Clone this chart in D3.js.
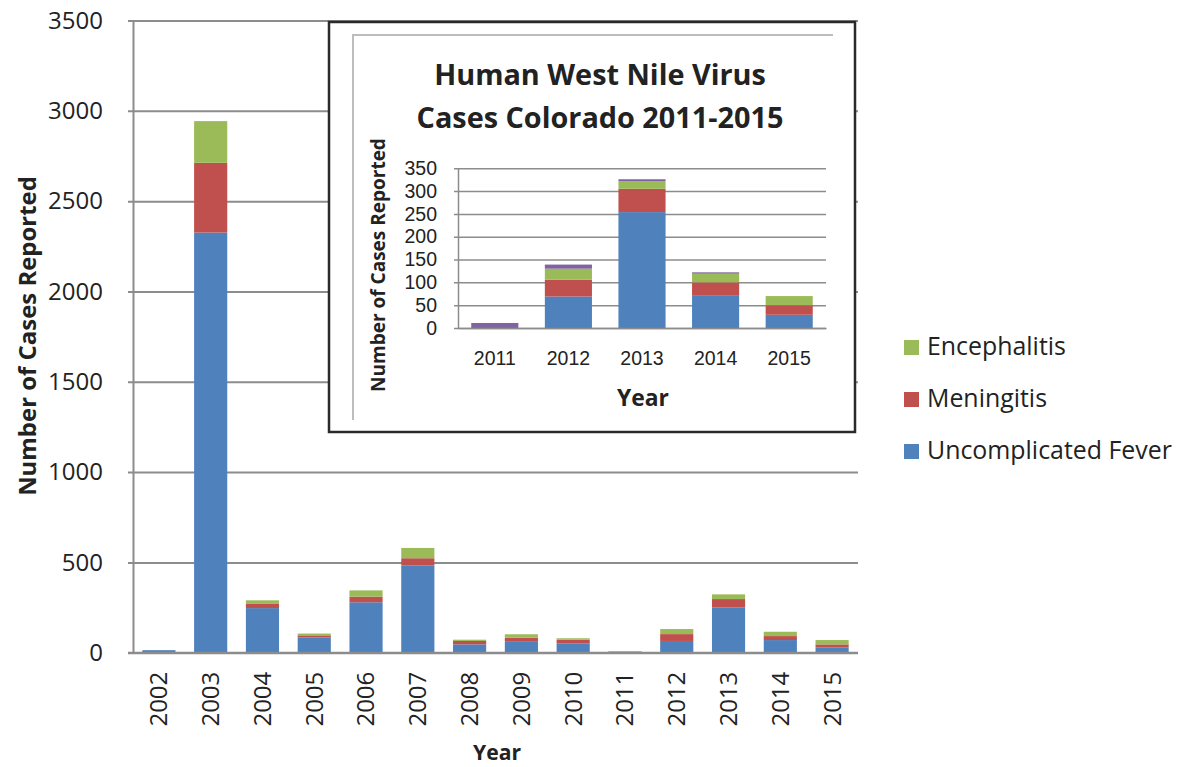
<!DOCTYPE html>
<html><head><meta charset="utf-8">
<script src="https://cdn.jsdelivr.net/npm/d3@7"></script>
<style>body{margin:0;background:#fff}svg{display:block}text{font-family:"Open Sans",sans-serif;fill:#222}</style>
</head><body><svg id="c" width="1181" height="767"></svg>
<script>
// ---- main chart data ----
const years = ["2002","2003","2004","2005","2006","2007","2008","2009","2010","2011","2012","2013","2014","2015"];
const fever = [14, 2326, 247, 85, 279, 482, 46, 64, 52, 2, 65, 251, 70, 28];
const meningitis = [0, 386, 23, 11, 31, 41, 19, 19, 20, 4, 38, 46, 22, 18];
const encephalitis = [0, 231, 20, 10, 35, 57, 7, 19, 8, 3, 28, 26, 24, 24];
const yTicks = [0, 500, 1000, 1500, 2000, 2500, 3000, 3500];
// ---- inset data ----
const insetYears = ["2011","2012","2013","2014","2015"];
const insetFever = [0, 69, 254, 72, 29];
const insetMeningitis = [0, 37, 51, 28, 21];
const insetEncephalitis = [0, 24, 17, 19, 20];
const insetOther = [11, 9, 4, 3, 0];
const insetTicks = [0, 50, 100, 150, 200, 250, 300, 350];
const legendItems = ["Encephalitis", "Meningitis", "Uncomplicated Fever"];

const colors = {fever:"#4F81BD", meningitis:"#C0504D", encephalitis:"#9BBB59", other:"#8064A2"};
const svg = d3.select("#c");
const grid = "#8c8c8c";
const fmt = d3.format("d");

function fit(sel, target){
  const n = sel.node(); const fs = parseFloat(sel.style("font-size"));
  const w = n.getComputedTextLength(); sel.style("font-size", (fs*target/w)+"px");
  return fs*target/w;
}

// ---- main chart ----
const x = d3.scaleBand().domain(years).range([133, 858]).paddingInner(0.36).paddingOuter(0.18);
const y = d3.scaleLinear().domain([0, 3500]).range([652.7, 20.5]);

const gy = svg.append("g").attr("transform","translate(133,0)")
  .call(d3.axisLeft(y).tickValues(yTicks).tickFormat(fmt).tickSize(-(858-133)).tickSizeOuter(0).tickPadding(30));
gy.select(".domain").attr("stroke", grid).attr("stroke-width",2);
gy.selectAll(".tick line").attr("stroke", grid).attr("stroke-width",2).attr("x1",-5);
gy.selectAll(".tick text").style("font-size","24px").attr("fill","#333").attr("font-family","Open Sans");

const mainRows = years.map((yr,i)=>({year:yr, fever:fever[i], meningitis:meningitis[i], encephalitis:encephalitis[i]}));
const mainStack = d3.stack().keys(["fever","meningitis","encephalitis"])(mainRows);
svg.append("g").selectAll("g").data(mainStack).join("g").attr("fill", d=>colors[d.key])
  .selectAll("rect").data(d=>d).join("rect")
  .attr("x", d=>x(d.data.year)).attr("width", x.bandwidth())
  .attr("y", d=>y(d[1])).attr("height", d=>y(d[0])-y(d[1]));

const gx = svg.append("g").attr("transform","translate(0,652.7)")
  .call(d3.axisBottom(x).tickSize(0).tickSizeOuter(0));
gx.select(".domain").attr("stroke", grid).attr("stroke-width",2).attr("d","M128,0H858");
gx.selectAll(".tick text").style("font-size","24px").attr("fill","#333")
  .attr("transform","rotate(-90)").attr("text-anchor","end").attr("dy","0.35em").attr("x",-19).attr("y",0);

svg.append("text").attr("transform","translate(28,336) rotate(-90)").attr("text-anchor","middle")
  .attr("dy","0.35em").style("font-weight","bold").style("font-size","22px").text("Number of Cases Reported")
  .call(s=>fit(s,320));
svg.append("text").attr("x",497).attr("y",760).attr("text-anchor","middle")
  .style("font-weight","bold").style("font-size","21px").text("Year").call(s=>fit(s,48));

// ---- inset ----
svg.append("rect").attr("x",329).attr("y",22).attr("width",526).attr("height",410)
  .attr("fill","#fff").attr("stroke","#2a2a2a").attr("stroke-width",2.5);
svg.append("path").attr("d","M353,420V35H833").attr("fill","none").attr("stroke","#bdbdbd").attr("stroke-width",2);

const t1 = svg.append("text").attr("x",600).attr("y",85).attr("text-anchor","middle")
  .style("font-weight","bold").style("font-size","26px").text("Human West Nile Virus");
const t2 = svg.append("text").attr("x",600).attr("y",128).attr("text-anchor","middle")
  .style("font-weight","bold").style("font-size","26px").text("Cases Colorado 2011-2015");
const tfs = fit(t2, 367); t1.style("font-size", tfs+"px");

const ix = d3.scaleBand().domain(insetYears).range([458, 826]).paddingInner(0.36).paddingOuter(0.18);
const iy = d3.scaleLinear().domain([0, 350]).range([328, 168.3]);
const igy = svg.append("g").attr("transform","translate(458,0)")
  .call(d3.axisLeft(iy).tickValues(insetTicks).tickFormat(fmt).tickSize(-(826-458)).tickSizeOuter(0).tickPadding(21));
igy.select(".domain").attr("stroke", grid).attr("stroke-width",1.5);
igy.selectAll(".tick line").attr("stroke", grid).attr("stroke-width",1.5).attr("x1",-4);
igy.selectAll(".tick text").style("font-size","19.5px").style("font-family","'Liberation Sans', sans-serif").attr("fill","#333");

const insetRows = insetYears.map((yr,i)=>({year:yr, fever:insetFever[i], meningitis:insetMeningitis[i], encephalitis:insetEncephalitis[i], other:insetOther[i]}));
const insetStack = d3.stack().keys(["fever","meningitis","encephalitis","other"])(insetRows);
svg.append("g").selectAll("g").data(insetStack).join("g").attr("fill", d=>colors[d.key])
  .selectAll("rect").data(d=>d).join("rect")
  .attr("x", d=>ix(d.data.year)).attr("width", ix.bandwidth())
  .attr("y", d=>iy(d[1])).attr("height", d=>iy(d[0])-iy(d[1]));

const igx = svg.append("g").attr("transform","translate(0,328)")
  .call(d3.axisBottom(ix).tickSize(0).tickSizeOuter(0).tickPadding(23));
igx.select(".domain").attr("stroke", grid).attr("stroke-width",1.5);
igx.selectAll(".tick text").style("font-size","19.5px").style("font-family","'Liberation Sans', sans-serif").attr("fill","#333");

svg.append("text").attr("transform","translate(378,265) rotate(-90)").attr("text-anchor","middle")
  .attr("dy","0.35em").style("font-weight","bold").style("font-size","17px").text("Number of Cases Reported")
  .call(s=>fit(s,254));
svg.append("text").attr("x",643).attr("y",406).attr("text-anchor","middle")
  .style("font-weight","bold").style("font-size","21px").text("Year").call(s=>fit(s,52));

// ---- legend ----
const legColors = [colors.encephalitis, colors.meningitis, colors.fever];
const legBase = [355, 407, 459];
const lg = svg.append("g");
legendItems.forEach((name,i)=>{
  lg.append("rect").attr("x",904).attr("y",legBase[i]-15).attr("width",15).attr("height",15).attr("fill",legColors[i]);
});
const ltexts = legendItems.map((name,i)=> lg.append("text").attr("x",927).attr("y",legBase[i])
  .style("font-size","22px").attr("fill","#222").text(name));
const lfs = fit(ltexts[2], 245);
ltexts.forEach(t=>t.style("font-size", lfs+"px"));
</script></body></html>
